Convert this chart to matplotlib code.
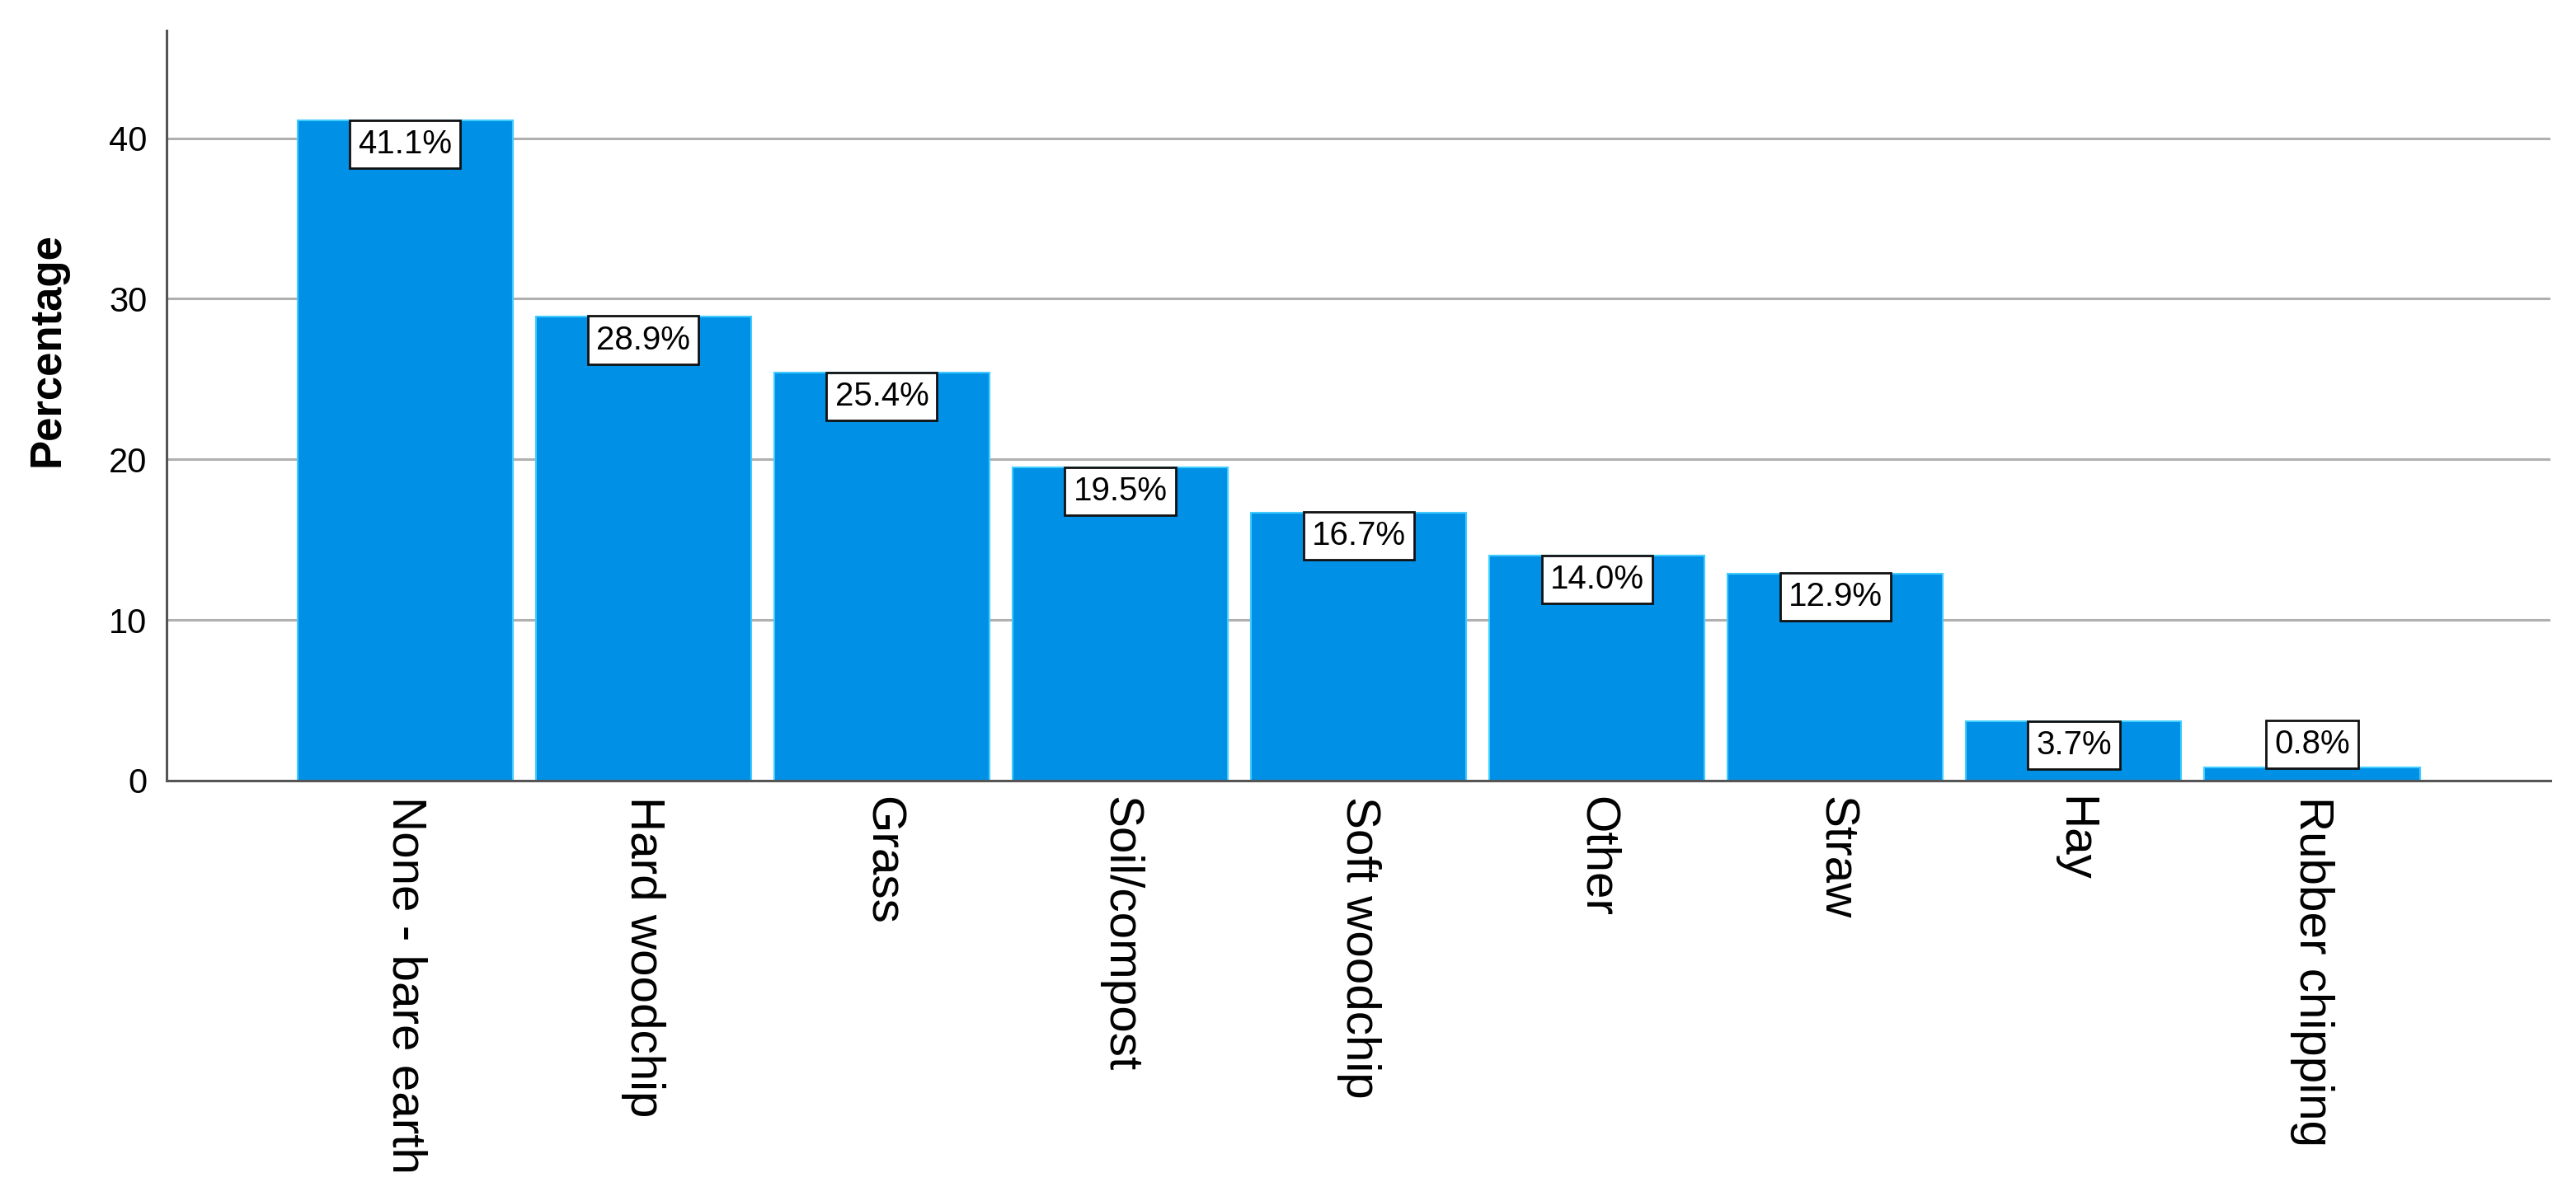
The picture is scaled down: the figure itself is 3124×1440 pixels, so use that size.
import matplotlib
matplotlib.use("Agg")
import matplotlib.pyplot as plt

# Data
categories = ["None - bare earth", "Hard woodchip", "Grass", "Soil/compost",
              "Soft woodchip", "Other", "Straw", "Hay", "Rubber chipping"]
percentages = [41.1, 28.9, 25.4, 19.5, 16.7, 14.0, 12.9, 3.7, 0.8]
y_ticks = [0, 10, 20, 30, 40]

bar_color = "#0090e6"
edge_color = "#40ccff"

fig = plt.figure(figsize=(31.24, 14.4), dpi=100)
ax = fig.add_axes([0.0647, 0.3424, 0.9254, 0.6319])

x = list(range(len(categories)))
ax.bar(x, percentages, width=0.903, color=bar_color, edgecolor=edge_color,
       linewidth=1.5, zorder=3)

# Value labels in white boxes
for xi, val in zip(x, percentages):
    if val > 3.5:
        va, off = "top", -7
    else:
        va, off = "bottom", 7
    ax.annotate(f"{val:.1f}%", xy=(xi, val), xytext=(0, off),
                textcoords="offset points", ha="center", va=va,
                fontsize=29, family=["Liberation Sans", "DejaVu Sans"],
                color="black", zorder=5,
                bbox=dict(boxstyle="square,pad=0.25", facecolor="white",
                          edgecolor="#111111", linewidth=2))

ax.set_xlim(-1, 9)
ax.set_ylim(0, 46.7)
ax.set_yticks(y_ticks)
ax.set_xticks(x)
ax.set_xticklabels(categories, rotation=270, fontsize=42,
                   family=["Liberation Sans", "DejaVu Sans"])
for lbl in ax.get_yticklabels():
    lbl.set_fontsize(30)
    lbl.set_family(["Liberation Sans Narrow", "Liberation Sans", "DejaVu Sans"])

ax.tick_params(axis="both", length=0)
ax.tick_params(axis="x", pad=14)
ax.tick_params(axis="y", pad=17)

ax.yaxis.grid(True, color="#b0b0b0", linewidth=2.2, zorder=0)
ax.set_axisbelow(True)

for side in ["top", "right"]:
    ax.spines[side].set_visible(False)
for side in ["left", "bottom"]:
    ax.spines[side].set_color("#555555")
    ax.spines[side].set_linewidth(2.2)
    ax.spines[side].set_zorder(4)

fig.text(58 / 3124, 1 - 424 / 1440, "Percentage", rotation=90, ha="center",
         va="center", fontsize=38, fontweight="bold",
         family=["Liberation Sans", "DejaVu Sans"])

fig.savefig("out.png", dpi=100, facecolor="white")
